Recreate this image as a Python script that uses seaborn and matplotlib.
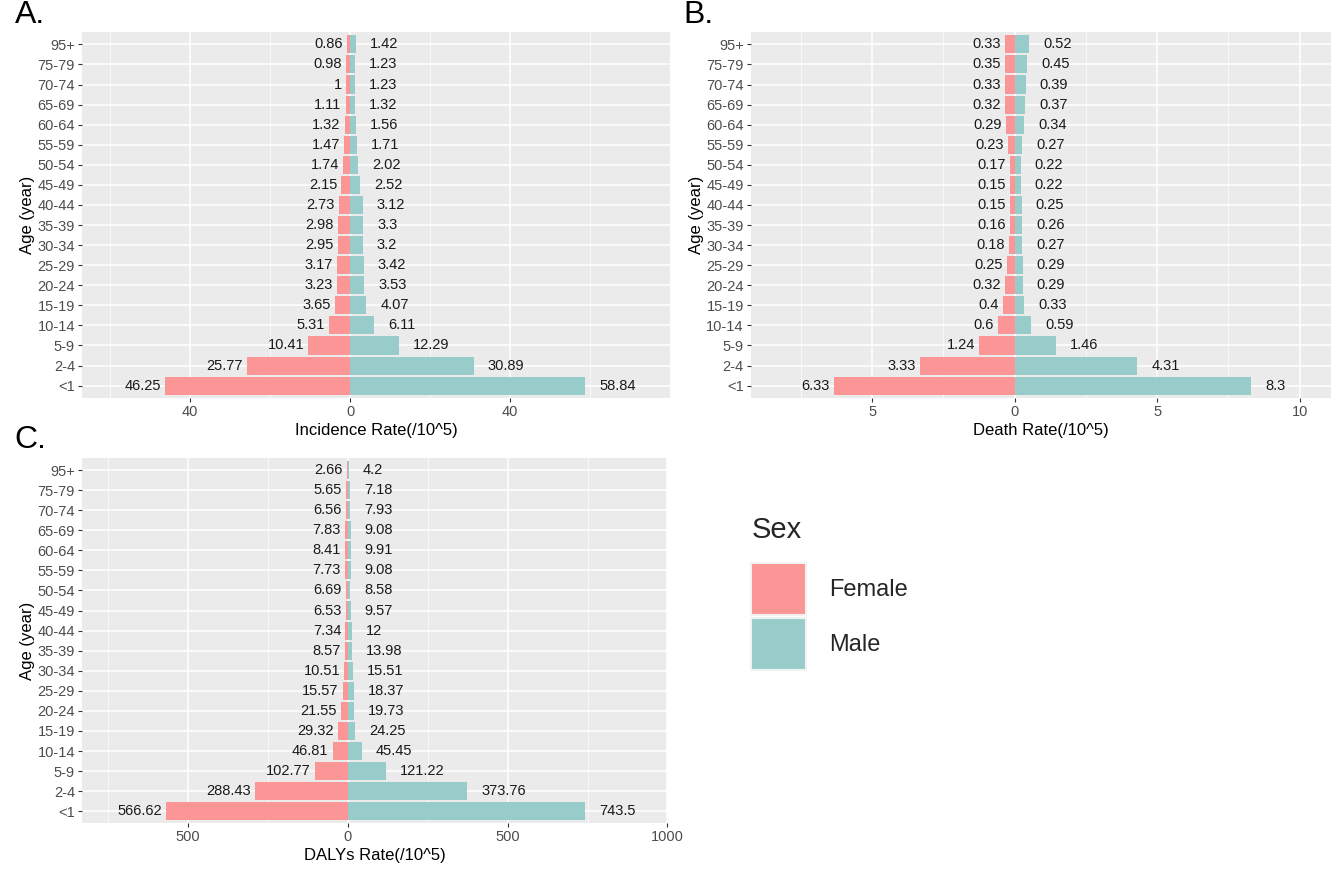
import pandas as pd
import numpy as np
import matplotlib
matplotlib.use("Agg")
import matplotlib.pyplot as plt
from matplotlib.patches import Patch
from matplotlib.ticker import FixedLocator, FuncFormatter
import seaborn as sns

# Age groups, top to bottom as drawn
ages = ["95+", "75-79", "70-74", "65-69", "60-64", "55-59", "50-54", "45-49",
        "40-44", "35-39", "30-34", "25-29", "20-24", "15-19", "10-14", "5-9",
        "2-4", "<1"]

# A. incidence rate
inc_female = [0.86, 0.98, 1, 1.11, 1.32, 1.47, 1.74, 2.15, 2.73, 2.98, 2.95,
              3.17, 3.23, 3.65, 5.31, 10.41, 25.77, 46.25]
inc_male = [1.42, 1.23, 1.23, 1.32, 1.56, 1.71, 2.02, 2.52, 3.12, 3.3, 3.2,
            3.42, 3.53, 4.07, 6.11, 12.29, 30.89, 58.84]

# B. death rate
death_female = [0.33, 0.35, 0.33, 0.32, 0.29, 0.23, 0.17, 0.15, 0.15, 0.16,
                0.18, 0.25, 0.32, 0.4, 0.6, 1.24, 3.33, 6.33]
death_male = [0.52, 0.45, 0.39, 0.37, 0.34, 0.27, 0.22, 0.22, 0.25, 0.26,
              0.27, 0.29, 0.29, 0.33, 0.59, 1.46, 4.31, 8.3]

# C. DALYs rate
daly_female = [2.66, 5.65, 6.56, 7.83, 8.41, 7.73, 6.69, 6.53, 7.34, 8.57,
               10.51, 15.57, 21.55, 29.32, 46.81, 102.77, 288.43, 566.62]
daly_male = [4.2, 7.18, 7.93, 9.08, 9.91, 9.08, 8.58, 9.57, 12, 13.98, 15.51,
             18.37, 19.73, 24.25, 45.45, 121.22, 373.76, 743.5]

sexes = ["Female", "Male"]
colors = {"Female": "#FC9696", "Male": "#98CCCB"}

sns.set_theme(style="darkgrid", rc={
    "axes.facecolor": "#EBEBEB",
    "grid.color": "white",
    "axes.edgecolor": "#EBEBEB",
})
plt.rcParams["font.family"] = ["Liberation Sans", "DejaVu Sans"]

fig = plt.figure(figsize=(13.43, 8.74), dpi=100)

panels = [
    ("A.", inc_female, inc_male, "Incidence Rate(/10^5)", (-67, 80),
     [-40, 0, 40], [-60, -20, 20, 60], [0.061, 0.545, 0.438, 0.418]),
    ("B.", death_female, death_male, "Death Rate(/10^5)", (-9.26, 11.1),
     [-5, 0, 5, 10], [-7.5, -2.5, 2.5, 7.5], [0.559, 0.545, 0.432, 0.418]),
    ("C.", daly_female, daly_male, "DALYs Rate(/10^5)", (-831, 1000),
     [-500, 0, 500, 1000], [-750, -250, 250, 750], [0.061, 0.058, 0.436, 0.418]),
]

for letter, fem, mal, xlabel, xlim, major, minor, pos in panels:
    ax = fig.add_axes(pos)
    df = pd.DataFrame({
        "age": ages * 2,
        "sex": ["Female"] * len(ages) + ["Male"] * len(ages),
        "value": [-v for v in fem] + list(mal),
    })
    sns.barplot(data=df, x="value", y="age", hue="sex", order=ages,
                hue_order=sexes, palette=colors, dodge=False, width=0.9,
                saturation=1, legend=False, ax=ax, zorder=3, linewidth=0)
    ax.set_axisbelow(True)
    for i, (f, m) in enumerate(zip(fem, mal)):
        ax.annotate(f"{f:g}", (-f, i), xytext=(-3, 0), textcoords="offset points",
                    ha="right", va="center", fontsize=10.5, color="#1a1a1a")
        ax.annotate(f"{m:g}", (m, i), xytext=(10, 0), textcoords="offset points",
                    ha="left", va="center", fontsize=10.5, color="#1a1a1a")
    ax.set_xlim(*xlim)
    ax.set_ylim(len(ages) - 0.4, -0.6)
    ax.xaxis.set_major_locator(FixedLocator(major))
    ax.xaxis.set_minor_locator(FixedLocator(minor))
    ax.xaxis.set_major_formatter(FuncFormatter(lambda v, p: f"{abs(v):g}"))
    ax.grid(which="major", color="white", linewidth=1.1)
    ax.grid(which="minor", axis="x", color="white", linewidth=0.5)
    ax.tick_params(axis="both", which="major", length=3, width=0.8,
                   color="#333333", labelsize=10.5, labelcolor="#4D4D4D",
                   bottom=True, left=True, pad=2)
    ax.tick_params(axis="x", which="minor", length=0)
    ax.set_xlabel(xlabel, fontsize=12, color="black", labelpad=3)
    ax.set_ylabel("Age (year)", fontsize=12, color="black", labelpad=2)
    for s in ax.spines.values():
        s.set_visible(False)
    fig.text(pos[0] - 0.05, pos[1] + pos[3] + 0.003, letter, fontsize=23,
             ha="left", va="bottom", color="black")

handles = [Patch(facecolor=colors[s], edgecolor="#F2F2F2", linewidth=1.5, label=s)
           for s in sexes]
leg = fig.legend(handles=handles, title="Sex", loc="upper left",
                 bbox_to_anchor=(0.556, 0.415), frameon=False, fontsize=17,
                 title_fontsize=21, handlelength=2.3, handleheight=3.0,
                 handletextpad=1.0, labelspacing=0.12, borderaxespad=0,
                 borderpad=0.2)
leg._legend_box.align = "left"
leg._legend_box.sep = 14

fig.savefig("out.png", dpi=100)
